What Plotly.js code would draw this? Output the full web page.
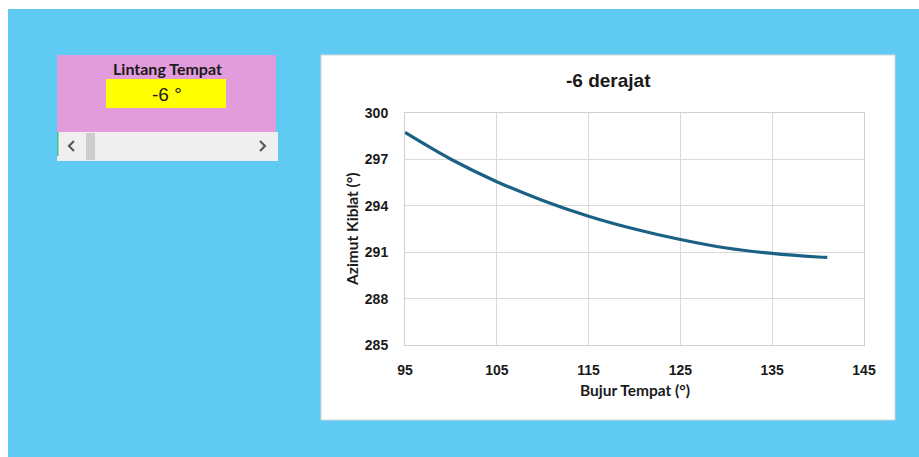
<!DOCTYPE html>
<html>
<head>
<meta charset="utf-8">
<script src="https://cdn.plot.ly/plotly-3.0.1.min.js"></script>
<style>
html,body{margin:0;padding:0;background:#ffffff;overflow:hidden;}
#chart{width:919px;height:457px;}
</style>
</head>
<body>
<div id="chart"></div>
<script>
// Data
const bujur = [95, 100, 105, 110, 115, 120, 125, 130, 135, 140, 141];
const azimut = [298.74, 297.01, 295.56, 294.35, 293.33, 292.50, 291.82, 291.27, 290.92, 290.69, 290.66];
const xTicks = [95, 105, 115, 125, 135, 145];
const yTicks = [285, 288, 291, 294, 297, 300];
const chartTitle = "-6 derajat";
const xTitle = "Bujur Tempat (°)";
const yTitle = "Azimut Kiblat (°)";
const widgetLabel = "Lintang Tempat";
const widgetValue = "-6 °";

// pixel -> paper helpers (plot area: x 405..864, y 113..345)
const PL = 405, PR = 864, PT = 113, PB = 345;
const px = v => (v - PL) / (PR - PL);
const py = v => (PB - v) / (PB - PT);

function rect(x0, y0, x1, y1, fill, line) {
  return {type: 'rect', xref: 'paper', yref: 'paper', layer: 'below',
    x0: px(x0), x1: px(x1), y0: py(y1), y1: py(y0),
    fillcolor: fill, line: line || {width: 0}};
}
function path(pts, color, w) {
  let d = pts.map((p, i) => (i ? 'L' : 'M') + px(p[0]) + ',' + py(p[1])).join(' ');
  return {type: 'path', xref: 'paper', yref: 'paper', layer: 'above', path: d,
    line: {color: color, width: w}};
}

const shapes = [
  rect(8, 9, 919, 457, '#5FCAF2'),
  rect(321, 55, 895, 420, '#FFFFFF', {color: '#D6D6D6', width: 1}),
  rect(57, 55, 276, 132, '#E29CDB'),
  rect(106, 79, 226, 108, '#FFFF00'),
  rect(57, 132, 278, 161, '#EFEFEF'),
  rect(86, 133, 95, 160, '#CDCDCD'),
  rect(57, 132, 58.5, 156, '#3FBF8A'),
  path([[74, 141], [69, 146], [74, 151]], '#595959', 2.2),
  path([[260, 141], [265, 146], [260, 151]], '#595959', 2.2)
];

const annotations = [
  {text: '<b>' + chartTitle + '</b>', xref: 'paper', yref: 'paper', x: px(608), y: py(80),
   showarrow: false, xanchor: 'center', yanchor: 'middle',
   font: {family: 'Liberation Sans, Arial, sans-serif', size: 19, color: '#1a1a1a'}},
  {text: '<b>' + xTitle + '</b>', xref: 'paper', yref: 'paper', x: px(634.5), y: py(390),
   showarrow: false, xanchor: 'center', yanchor: 'middle',
   font: {family: 'Lato, sans-serif', size: 15.5, color: '#1a1a1a'}},
  {text: '<b>' + yTitle + '</b>', xref: 'paper', yref: 'paper', x: px(352), y: py(229),
   showarrow: false, xanchor: 'center', yanchor: 'middle', textangle: -90,
   font: {family: 'Lato, sans-serif', size: 15.5, color: '#1a1a1a'}},
  {text: '<b>' + widgetLabel + '</b>', xref: 'paper', yref: 'paper', x: px(167), y: py(68),
   showarrow: false, xanchor: 'center', yanchor: 'middle',
   font: {family: 'Lato, sans-serif', size: 16, color: '#1a1a1a'}},
  {text: widgetValue, xref: 'paper', yref: 'paper', x: px(167), y: py(95),
   showarrow: false, xanchor: 'center', yanchor: 'middle',
   font: {family: 'Liberation Sans, Arial, sans-serif', size: 19, color: '#1a1a1a'}}
];

const trace = {
  x: bujur, y: azimut, type: 'scatter', mode: 'lines',
  line: {color: '#1B6183', width: 3.2, shape: 'spline', smoothing: 1.0},
  hoverinfo: 'skip'
};

const tickFont = {family: 'Liberation Sans, Arial, sans-serif', size: 14, color: '#1a1a1a'};

const layout = {
  width: 919, height: 457,
  margin: {l: PL, r: 919 - PR, t: PT, b: 457 - PB, pad: 0},
  paper_bgcolor: '#FFFFFF', plot_bgcolor: 'rgba(0,0,0,0)',
  showlegend: false,
  xaxis: {
    range: [95, 145], tickvals: xTicks, ticktext: xTicks.map(v => '<b>' + v + '</b>'),
    showgrid: true, gridcolor: '#D9D9D9', gridwidth: 1,
    showline: true, linecolor: '#D0D0D0', linewidth: 1, mirror: true,
    zeroline: false, ticks: '', ticklabelstandoff: 12, tickfont: tickFont, fixedrange: true
  },
  yaxis: {
    range: [285, 300], tickvals: yTicks, ticktext: yTicks.map(v => '<b>' + v + '</b>'),
    showgrid: true, gridcolor: '#D9D9D9', gridwidth: 1,
    showline: true, linecolor: '#D0D0D0', linewidth: 1, mirror: true,
    zeroline: false, ticks: '', ticklabelstandoff: 13, tickfont: tickFont, fixedrange: true
  },
  shapes: shapes,
  annotations: annotations
};

Plotly.newPlot('chart', [trace], layout, {displayModeBar: false, staticPlot: true});
</script>
</body>
</html>
